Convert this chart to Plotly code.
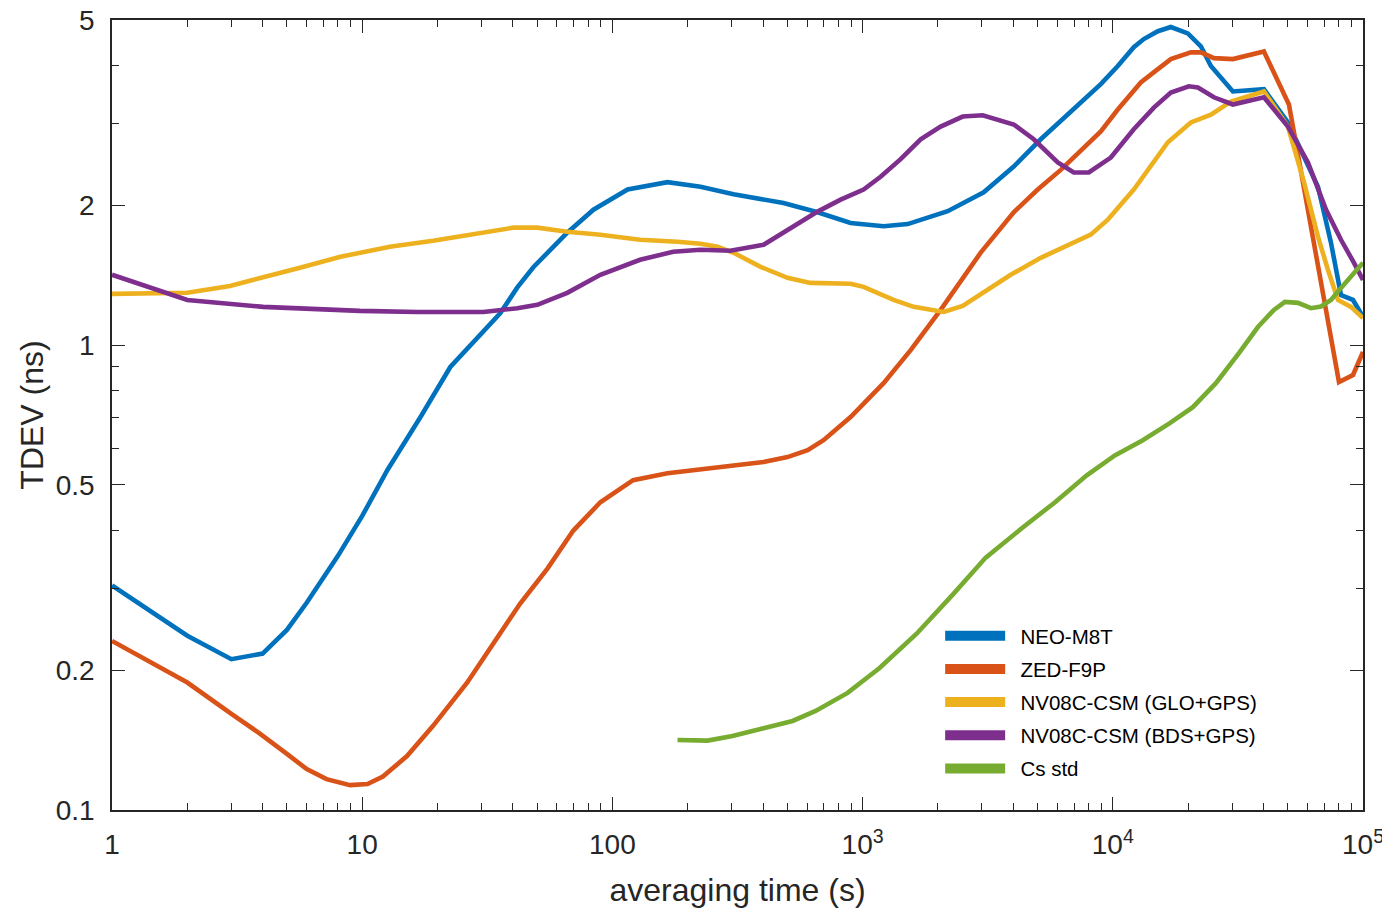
import plotly.graph_objects as go

# ---------------- data ----------------
neo_tau = [1, 2, 3, 4, 5, 6, 8, 10, 12.6, 17.1, 22.5, 30, 35.6, 41.7, 48.3, 66, 84, 115, 166, 225,
           305, 483, 661, 895, 1213, 1514, 1871, 2188, 3048, 4018, 5152, 6982, 8954, 10470, 12130,
           13300, 15140, 17060, 19950, 22490, 24660, 30200, 40180, 50120, 66070, 74470, 81660, 91200, 100000]
neo_val = [0.304, 0.237, 0.211, 0.217, 0.244, 0.279, 0.352, 0.429, 0.538, 0.70, 0.897, 1.06, 1.17, 1.33,
           1.47, 1.744, 1.954, 2.16, 2.24, 2.19, 2.11, 2.02, 1.93, 1.83, 1.80, 1.82, 1.89, 1.94, 2.13, 2.42,
           2.77, 3.21, 3.64, 3.98, 4.37, 4.55, 4.73, 4.83, 4.68, 4.39, 3.98, 3.51, 3.55, 3.01, 2.19, 1.66,
           1.28, 1.25, 1.15]

zed_tau = [1, 2, 3, 3.9, 5, 6, 7.2, 8.95, 10.5, 12.1, 15.1, 19.2, 26.3, 33.4, 42.8, 55, 69.8, 89.5, 121,
           166, 263, 402, 501, 603, 698, 895, 1213, 1556, 2051, 2965, 4018, 5012, 6194, 7943, 8954, 10470,
           12940, 15140, 17060, 20510, 22490, 25350, 30200, 40180, 50580, 80170, 91200, 100000]
zed_val = [0.231, 0.188, 0.161, 0.146, 0.132, 0.1225, 0.1165, 0.1131, 0.1137, 0.118, 0.1306, 0.1517, 0.188,
           0.228, 0.278, 0.3305, 0.399, 0.459, 0.512, 0.53, 0.546, 0.56, 0.574, 0.594, 0.624, 0.70, 0.828,
           0.975, 1.19, 1.58, 1.93, 2.16, 2.38, 2.70, 2.88, 3.21, 3.67, 3.92, 4.12, 4.26, 4.26, 4.14, 4.12,
           4.28, 3.29, 0.832, 0.862, 0.966]

glo_tau = [1, 2, 2.96, 4.02, 5.64, 8.19, 12.9, 19.2, 30.5, 40.2, 50.1, 66, 89.5, 129, 182, 225, 263, 305,
           391, 501, 619, 895, 1009, 1330, 1600, 1871, 2109, 2512, 3048, 3908, 5152, 6982, 8166, 9550,
           12130, 16600, 20510, 24660, 29650, 40180, 50120, 58080, 66070, 72440, 79430, 89540, 100000]
glo_val = [1.288, 1.295, 1.34, 1.395, 1.466, 1.548, 1.627, 1.676, 1.744, 1.788, 1.788, 1.752, 1.727, 1.684,
           1.667, 1.651, 1.627, 1.579, 1.473, 1.395, 1.36, 1.354, 1.334, 1.25, 1.208, 1.19, 1.178, 1.214,
           1.301, 1.416, 1.54, 1.66, 1.727, 1.86, 2.16, 2.73, 3.01, 3.13, 3.34, 3.51, 2.95, 2.24, 1.71, 1.45,
           1.25, 1.208, 1.143]

bds_tau = [1, 2, 4.02, 9.8, 16.6, 30.5, 41.7, 50.1, 66, 89.5, 129, 175, 225, 296, 402, 515, 661, 817, 1009,
           1180, 1419, 1706, 2051, 2512, 3020, 4018, 4831, 6026, 6982, 8017, 9817, 12130, 14590, 17060,
           20140, 21880, 25350, 30200, 40180, 50120, 60260, 71120, 81660, 92040, 100000]
bds_val = [1.416, 1.25, 1.208, 1.184, 1.178, 1.178, 1.20, 1.22, 1.295, 1.416, 1.525, 1.587, 1.603, 1.595,
           1.643, 1.788, 1.936, 2.054, 2.16, 2.30, 2.51, 2.77, 2.95, 3.10, 3.12, 2.98, 2.77, 2.47, 2.35, 2.35,
           2.53, 2.91, 3.24, 3.49, 3.60, 3.58, 3.41, 3.29, 3.41, 2.95, 2.47, 1.955, 1.684, 1.502, 1.38]

cs_tau = [182, 240, 302, 391, 525, 649, 871, 1169, 1644, 2312, 3105, 4365, 5861, 7870, 10190, 13180, 16900,
          20890, 25820, 31920, 38020, 44060, 48750, 54950, 61940, 67920, 74470, 81660, 100000]
cs_val = [0.1414, 0.141, 0.1443, 0.1493, 0.1554, 0.1633, 0.1786, 0.202, 0.2394, 0.292, 0.349, 0.405, 0.4586,
          0.5245, 0.579, 0.624, 0.679, 0.735, 0.828, 0.961, 1.093, 1.19, 1.238, 1.232, 1.20, 1.21, 1.25,
          1.327, 1.502]

series_names = ["NEO-M8T", "ZED-F9P", "NV08C-CSM (GLO+GPS)", "NV08C-CSM (BDS+GPS)", "Cs std"]
series_colors = ["#0072BD", "#D95319", "#EDB120", "#7E2F8E", "#77AC30"]

x_tickvals = [1, 10, 100, 1000, 10000, 100000]
x_ticktext = ["1", "10", "100", "10<sup>3</sup>", "10<sup>4</sup>", "10<sup>5</sup>"]
x_minor = [m * 10 ** d for d in range(5) for m in range(2, 10)]
y_tickvals = [0.1, 0.2, 0.5, 1, 2, 5]
y_ticktext = ["0.1", "0.2", "0.5", "1", "2", "5"]
y_minor = [0.3, 0.4, 0.6, 0.7, 0.8, 0.9, 3, 4]

# ---------------- figure ----------------
fig = go.Figure()
data = [(neo_tau, neo_val), (zed_tau, zed_val), (glo_tau, glo_val), (bds_tau, bds_val), (cs_tau, cs_val)]
for (tx, vy), name, col in zip(data, series_names, series_colors):
    fig.add_trace(go.Scatter(x=tx, y=vy, mode="lines", name=name, legendgroup=name,
                             line=dict(color=col, width=4.6), showlegend=False))
# thick legend swatches (MATLAB style)
for name, col in zip(series_names, series_colors):
    fig.add_trace(go.Scatter(x=[None], y=[None], mode="lines", name="\u2002" + name, legendgroup=name,
                             line=dict(color=col, width=15), showlegend=True))

axis_col = "#262626"
font_family = "Liberation Sans, Arial, Helvetica, sans-serif"

# the page body adds an 8 px offset; the figure is sized so the plot box lands at x 112-1363, y 20-810
fig.update_layout(
    width=1382, height=900, autosize=False,
    margin=dict(l=104, r=27, t=12, b=98),
    paper_bgcolor="white", plot_bgcolor="white",
    font=dict(family=font_family, color=axis_col),
    legend=dict(x=0.662, y=0.2456, xanchor="left", yanchor="top",
                font=dict(size=20.5, color="black", family=font_family),
                bgcolor="rgba(0,0,0,0)", borderwidth=0, tracegroupgap=3.5,
                itemwidth=60),
    xaxis=dict(type="log", range=[0, 5], showgrid=False, zeroline=False, automargin=False,
               showline=True, linecolor=axis_col, linewidth=1.5, mirror="ticks",
               ticks="inside", ticklen=13, tickwidth=1.2, tickcolor=axis_col,
               tickmode="array", tickvals=x_tickvals, ticktext=x_ticktext,
               tickfont=dict(size=28, color=axis_col), ticklabelstandoff=9,
               ticklabeloverflow="allow",
               minor=dict(ticks="inside", ticklen=7, tickwidth=1.2, tickcolor=axis_col,
                          tickmode="array", tickvals=x_minor, showgrid=False),
               title=dict(text="averaging time (s)", font=dict(size=32, color=axis_col), standoff=20)),
    yaxis=dict(type="log", range=[-1, 0.69897], showgrid=False, zeroline=False, automargin=False,
               showline=True, linecolor=axis_col, linewidth=1.5, mirror="ticks",
               ticks="inside", ticklen=13, tickwidth=1.2, tickcolor=axis_col,
               tickmode="array", tickvals=y_tickvals, ticktext=y_ticktext,
               tickfont=dict(size=28, color=axis_col), ticklabelstandoff=10,
               ticklabeloverflow="allow",
               minor=dict(ticks="inside", ticklen=7, tickwidth=1.2, tickcolor=axis_col,
                          tickmode="array", tickvals=y_minor, showgrid=False),
               title=dict(text="TDEV (ns)", font=dict(size=32, color=axis_col), standoff=3)),
)

fig.write_html("out.html")
